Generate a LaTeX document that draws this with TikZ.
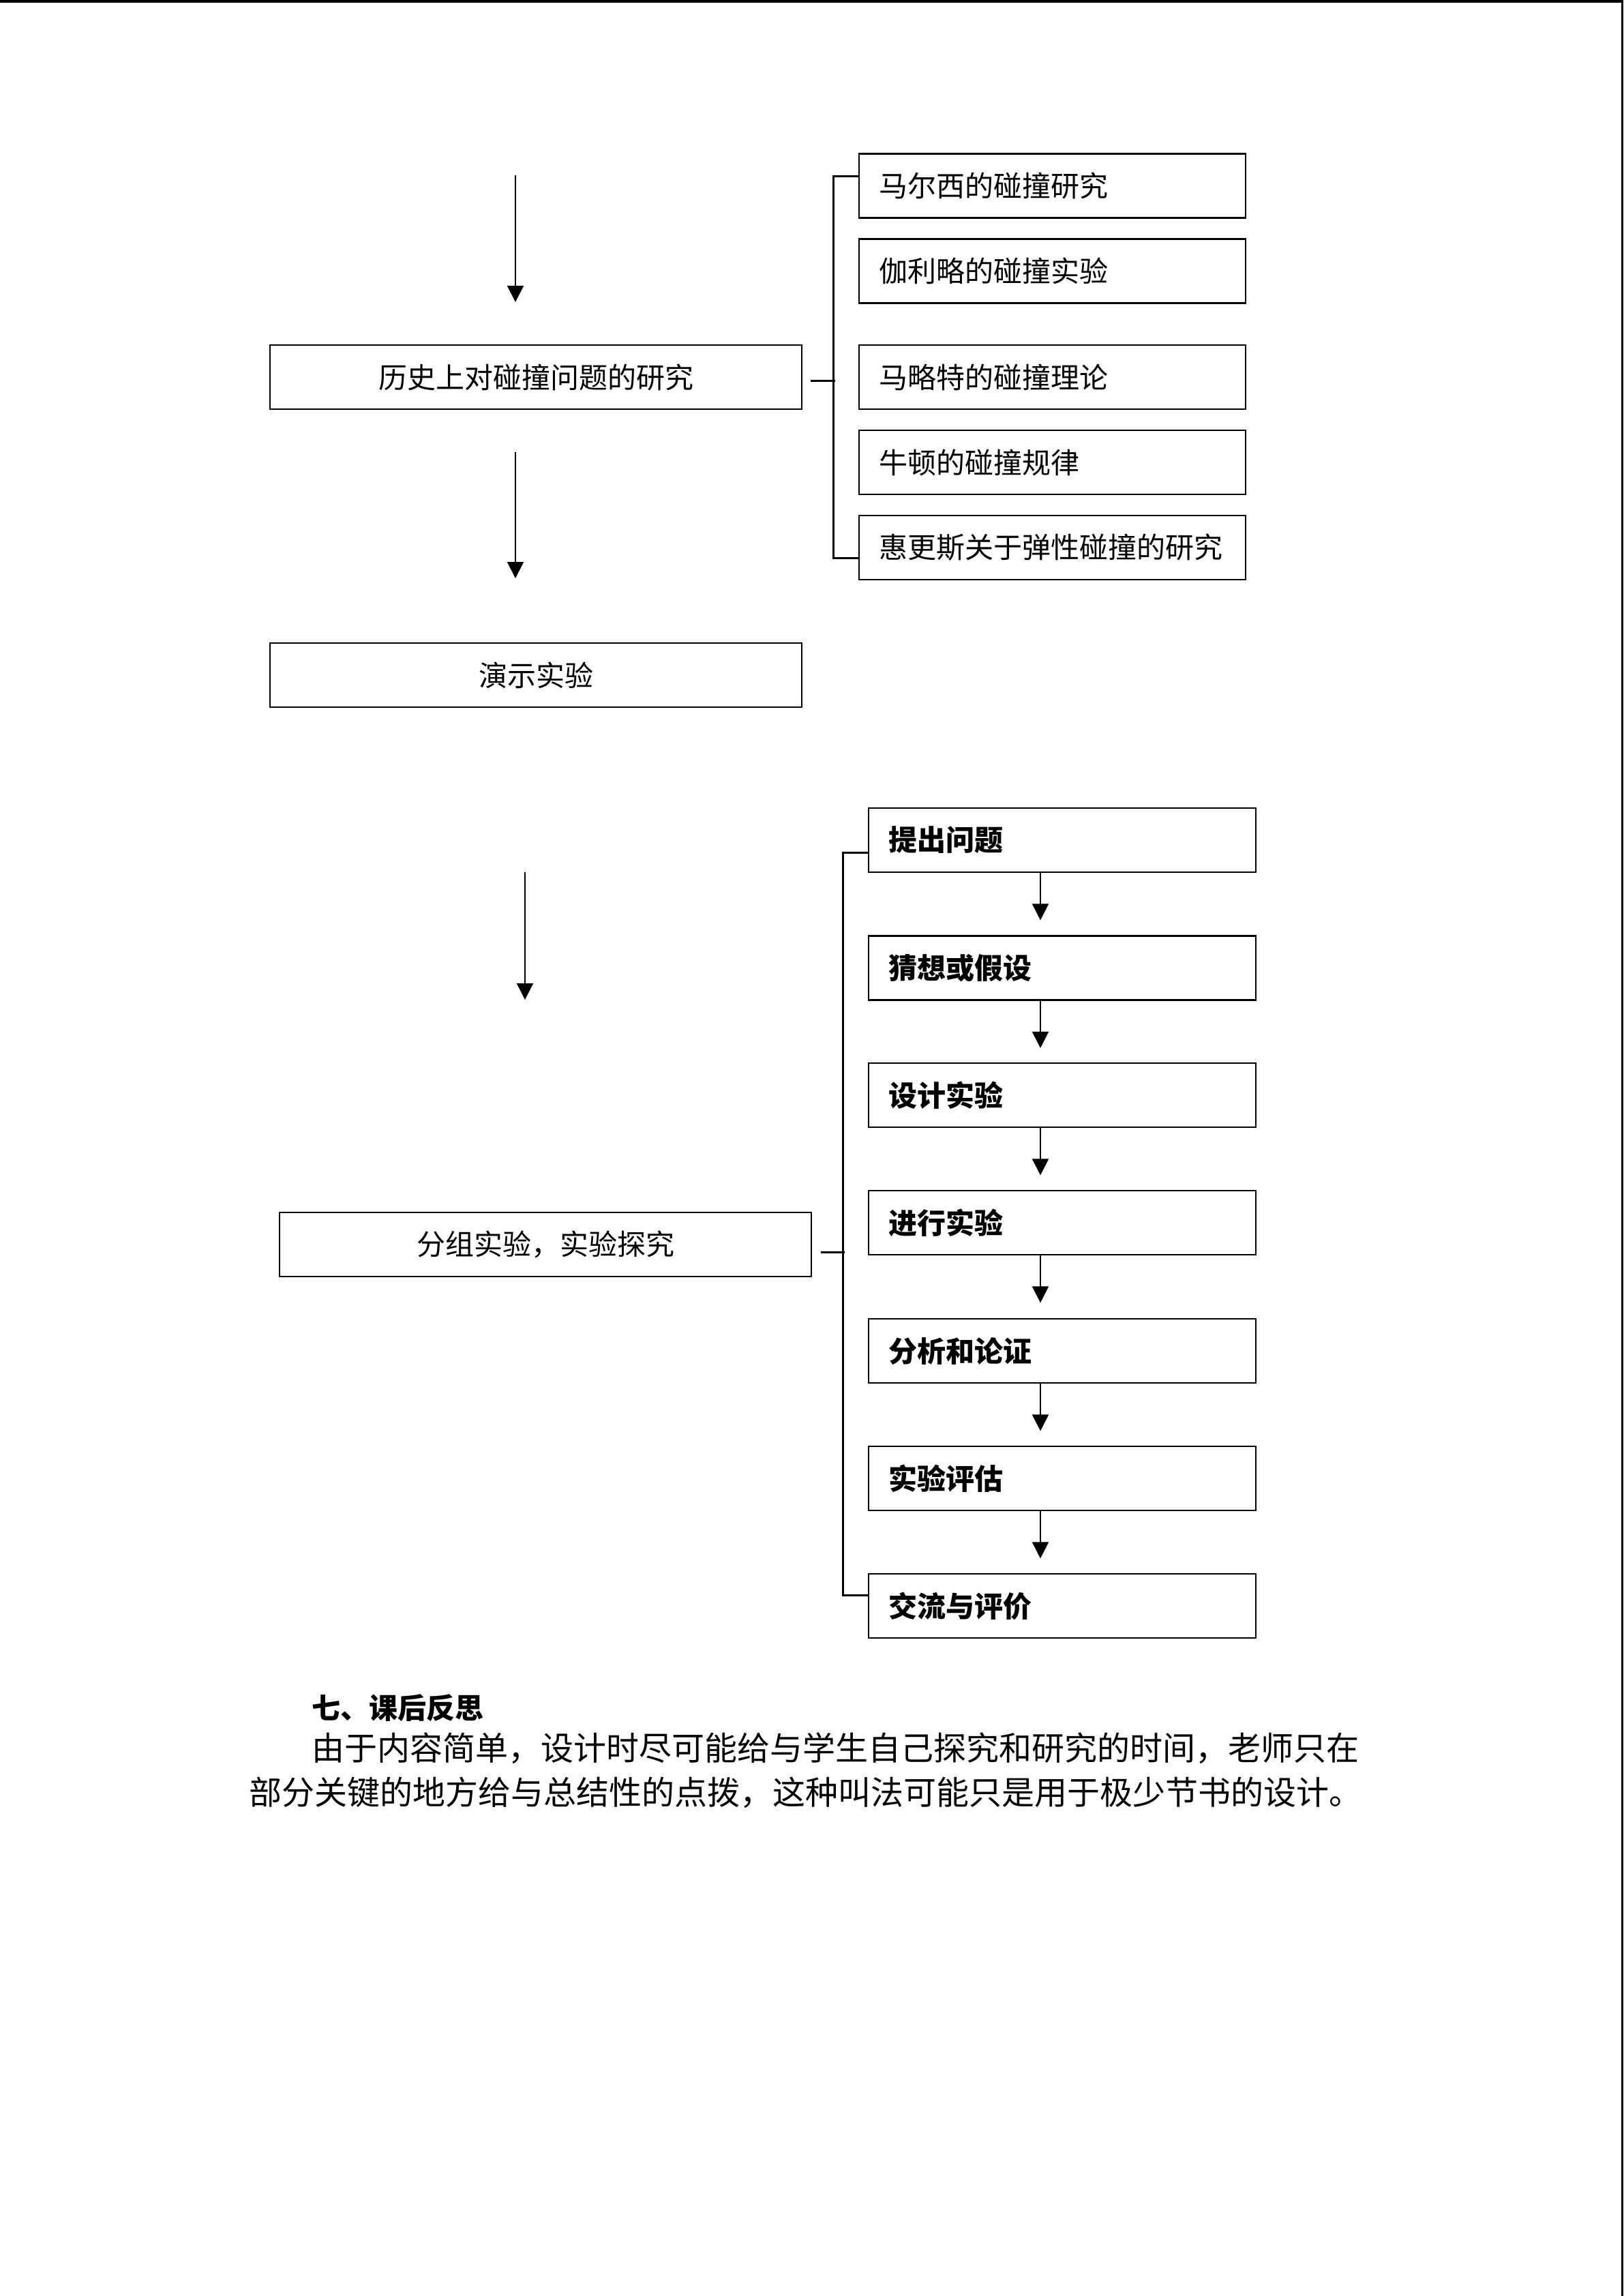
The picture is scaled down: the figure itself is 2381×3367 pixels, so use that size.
\documentclass[tikz,border=0pt]{standalone}
\usepackage{fontspec}
\setmainfont{Noto Sans CJK SC}
\usetikzlibrary{arrows.meta}
\tikzset{
  lbox/.style={draw, line width=0.7pt, minimum width=195pt, minimum height=23.5pt, inner sep=0pt, font=\fontsize{10.5pt}{12pt}\selectfont},
  rbox/.style={draw, line width=0.7pt, text width=127.25pt, align=left, inner xsep=7.25pt, inner ysep=0pt, minimum height=23.5pt, font=\fontsize{10.5pt}{12pt}\selectfont},
  bbox/.style={rbox, text width=127.5pt, font=\fontsize{10.5pt}{12pt}\selectfont\bfseries},
  arr/.style={line width=0.5pt, -{Triangle[length=6pt,width=6pt]}},
  brk/.style={line width=0.75pt},
  ptext/.style={inner sep=0pt, anchor=base west}
}
\begin{document}
\begin{tikzpicture}[x=0.25pt,y=-0.25pt]
\fill[white] (0,0) rectangle (2381,3367);
\useasboundingbox (0,0) rectangle (2381,3367);
% page edges
\fill[black] (0,0) rectangle (2381,3.5);
\fill[black] (2378,0) rectangle (2381,3367);

% ---------- section 1 ----------
\node[lbox] (h) at (786,553) {历史上对碰撞问题的研究};
\node[lbox] (d) at (786,990) {演示实验};
\node[rbox] (r1) at (1543.5,272.5) {马尔西的碰撞研究};
\node[rbox] (r2) at (1543.5,397.5) {伽利略的碰撞实验};
\node[rbox] (r3) at (1543.5,553) {马略特的碰撞理论};
\node[rbox] (r4) at (1543.5,678) {牛顿的碰撞规律};
\node[rbox] (r5) at (1543.5,803) {惠更斯关于弹性碰撞的研究};

\coordinate (a1s) at (756,257);
\coordinate (a1e) at (756,443);
\coordinate (a2s) at (756,663);
\coordinate (a2e) at (756,848);
\draw[arr] (a1s) -- (a1e);
\draw[arr] (a2s) -- (a2e);

\draw[brk] ([yshift=3.6pt]r1.west) -- ++(-36,0) |- ([yshift=-3.75pt]r5.west);
\draw[brk] ([xshift=3pt,yshift=-1.25pt]h.east) -- ++(36,0);

% ---------- section 2 ----------
\node[lbox] (g) at (800,1825) {分组实验，实验探究};
\node[bbox] (p1) at (1558,1232) {提出问题};
\node[bbox] (p2) at (1558,1419.5) {猜想或假设};
\node[bbox] (p3) at (1558,1606) {设计实验};
\node[bbox] (p4) at (1558,1793) {进行实验};
\node[bbox] (p5) at (1558,1981) {分析和论证};
\node[bbox] (p6) at (1558,2168) {实验评估};
\node[bbox] (p7) at (1558,2355) {交流与评价};

\coordinate (a3s) at (770,1279);
\coordinate (a3e) at (770,1466);
\draw[arr] (a3s) -- (a3e);

\foreach \i in {1,...,6}{
  \draw[arr] ([xshift=-8pt]p\i.south) -- ++(0,69);
}

\draw[brk] ([yshift=-4.5pt]p1.west) -- ++(-36,0) |- ([yshift=4pt]p7.west);
\draw[brk] ([xshift=3.25pt,yshift=-2.75pt]g.east) -- ++(35,0);

% ---------- text ----------
\node[ptext, font=\fontsize{10.5pt}{12pt}\selectfont\bfseries] (t0) at (457,2520) {七、课后反思};
\node[ptext, font=\fontsize{12pt}{14pt}\selectfont] (t1) at (457,2581) {由于内容简单，设计时尽可能给与学生自己探究和研究的时间，老师只在};
\node[ptext, font=\fontsize{12pt}{14pt}\selectfont] (t2) at (365,2646) {部分关键的地方给与总结性的点拨，这种叫法可能只是用于极少节书的设计。};
\end{tikzpicture}
\end{document}
